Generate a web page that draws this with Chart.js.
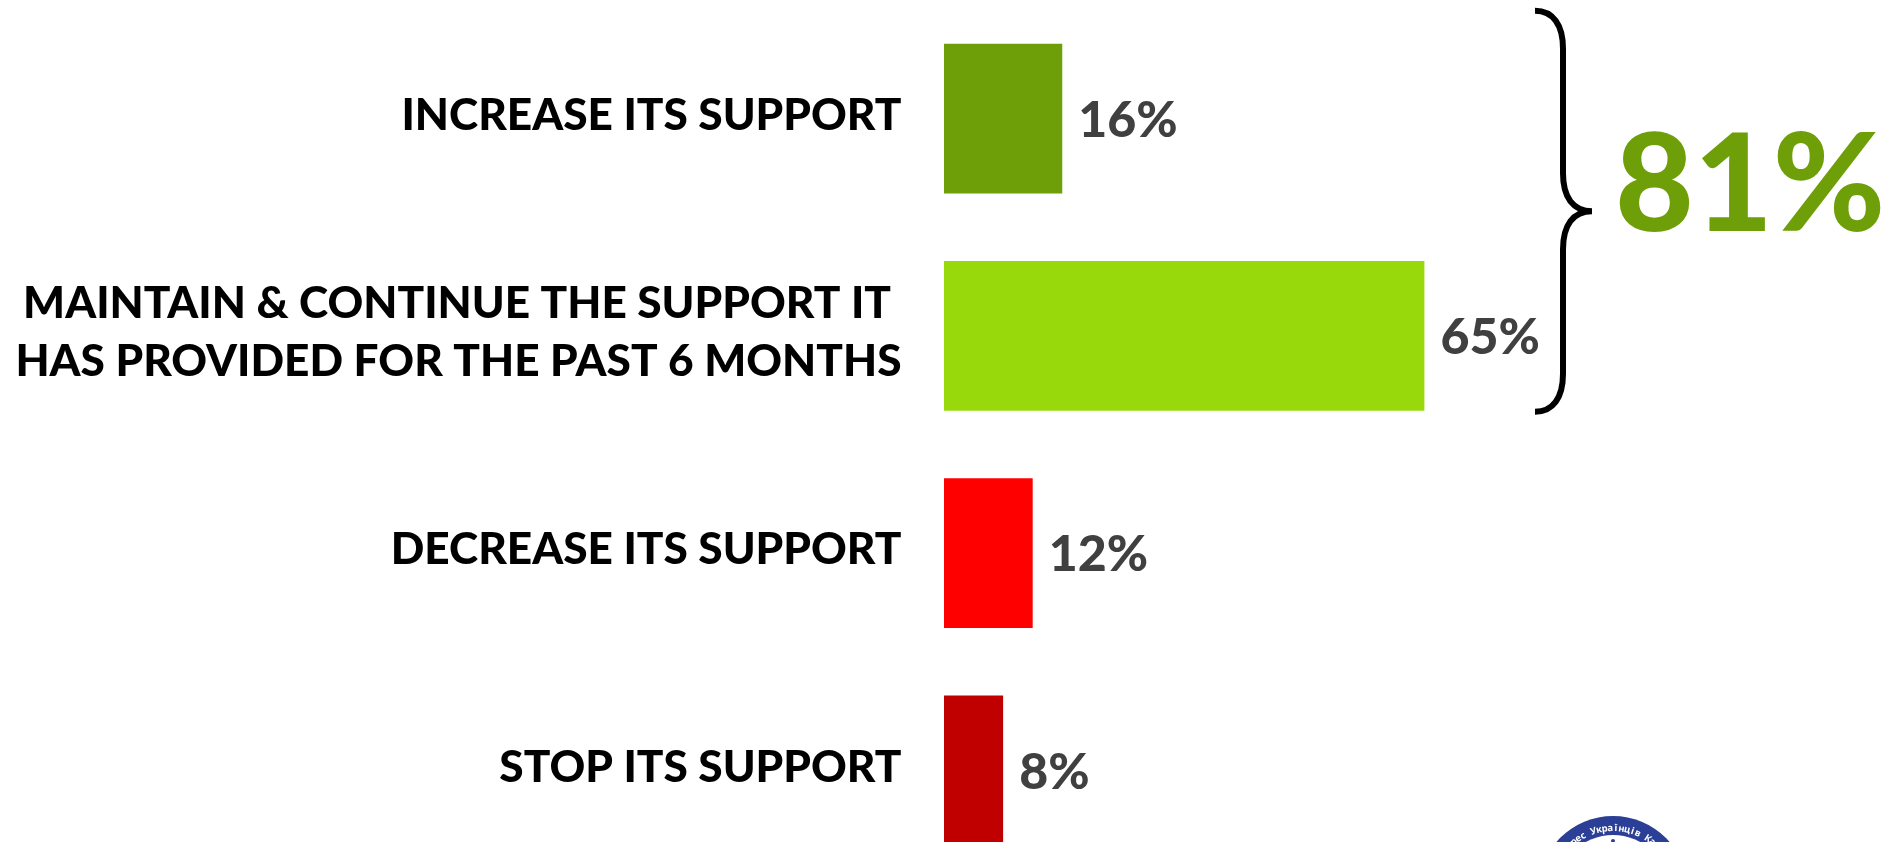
<!DOCTYPE html>
<html>
<head>
<meta charset="utf-8">
<title>Support</title>
<script src="https://cdn.jsdelivr.net/npm/chart.js@4"></script>
<style>
  html, body { margin: 0; padding: 0; background: #fff; overflow: hidden; width: 1890px; height: 842px; }
  canvas { display: block; }
</style>
</head>
<body>
<canvas id="supportChart" width="1890" height="879"></canvas>
<script>
var categories = [
  "INCREASE ITS SUPPORT ",
  ["MAINTAIN & CONTINUE THE SUPPORT IT  ", "HAS PROVIDED FOR THE PAST 6 MONTHS "],
  "DECREASE ITS SUPPORT ",
  "STOP ITS SUPPORT "
];
var values = [16, 65, 12, 8];
var barColors = ["#6f9f08", "#97d90a", "#ff0000", "#c00000"];
var totalLabel = "81%";
var logoText = "Конгрес Українців Канади";

var FONT = "Lato, sans-serif";

// value labels, brace and logo are all drawn after the bars
var extras = {
  id: "extras",
  afterLayout: function (chart) {
    // nudge the category labels up a little
    chart.scales.y.getLabelItems().forEach(function (item) {
      item.options.translation[1] -= 3;
    });
  },
  afterDatasetsDraw: function (chart) {
    var ctx = chart.ctx;
    var bars = chart.getDatasetMeta(0).data;

    ctx.save();
    ctx.font = "900 50px " + FONT;
    ctx.fillStyle = "#404040";
    ctx.textAlign = "left";
    ctx.textBaseline = "middle";
    bars.forEach(function (bar, i) {
      ctx.fillText(values[i] + "%", bar.x + 16, bar.y + 2);
    });

    // brace around the first two bars
    var top = bars[0].y - bars[0].height / 2 - 33;
    var bottom = bars[1].y + bars[1].height / 2 + 1;
    var mid = (top + bottom) / 2;
    var x0 = 1535, x1 = 1563, tip = 1592;
    ctx.strokeStyle = "#000";
    ctx.lineWidth = 6;
    ctx.beginPath();
    ctx.moveTo(x0, top);
    ctx.bezierCurveTo(x1 - 10, top, x1, top + 14, x1, top + 38);
    ctx.lineTo(x1, mid - 38);
    ctx.bezierCurveTo(x1, mid - 14, x1 + 10, mid, tip, mid);
    ctx.bezierCurveTo(x1 + 10, mid, x1, mid + 14, x1, mid + 38);
    ctx.lineTo(x1, bottom - 38);
    ctx.bezierCurveTo(x1, bottom - 14, x1 - 10, bottom, x0, bottom);
    ctx.stroke();

    ctx.font = "900 136px " + FONT;
    ctx.fillStyle = barColors[0];
    ctx.textAlign = "left";
    ctx.textBaseline = "alphabetic";
    ctx.fillText(totalLabel, 1615, 231);

    // logo, cut off by the bottom edge
    var cx = 1613, cy = 891;
    ctx.fillStyle = "#2a3f95";
    ctx.beginPath();
    ctx.arc(cx, cy, 75, 0, Math.PI * 2);
    ctx.fill();
    ctx.fillStyle = "#fff";
    ctx.beginPath();
    ctx.arc(cx, cy, 56, 0, Math.PI * 2);
    ctx.fill();
    ctx.fillStyle = "#2a3f95";
    ctx.beginPath();
    ctx.arc(cx, 841, 2, 0, Math.PI * 2);
    ctx.fill();
    ctx.font = "700 9.5px 'Noto Sans', sans-serif";
    ctx.fillStyle = "#fff";
    ctx.textAlign = "center";
    var step = 0.09;
    var start = -(logoText.length - 1) / 2 * step;
    logoText.split("").forEach(function (ch, i) {
      ctx.save();
      ctx.translate(cx, cy);
      ctx.rotate(start + i * step);
      ctx.fillText(ch, 0, -60);
      ctx.restore();
    });
    ctx.restore();
  }
};

new Chart(document.getElementById("supportChart").getContext("2d"), {
  type: "bar",
  data: {
    labels: categories,
    datasets: [{
      data: values,
      backgroundColor: barColors,
      borderWidth: 0,
      barPercentage: 0.69,
      categoryPercentage: 1
    }]
  },
  options: {
    indexAxis: "y",
    responsive: false,
    animation: false,
    layout: { padding: { top: 10, right: 0, bottom: 0, left: 0 } },
    scales: {
      x: { display: false, min: 0, max: 128 },
      y: {
        afterFit: function (scale) {
          scale.width = 944;
          // tall two-line label would otherwise squeeze the bands
          scale.paddingTop = 0;
          scale.paddingBottom = 0;
        },
        grid: { display: false },
        border: { display: false },
        ticks: {
          color: "#000",
          padding: 24,
          font: { family: FONT, size: 44.2, weight: "900", lineHeight: 1.3 }
        }
      }
    },
    plugins: { legend: { display: false }, tooltip: { enabled: false } }
  },
  plugins: [extras]
});
</script>
</body>
</html>
